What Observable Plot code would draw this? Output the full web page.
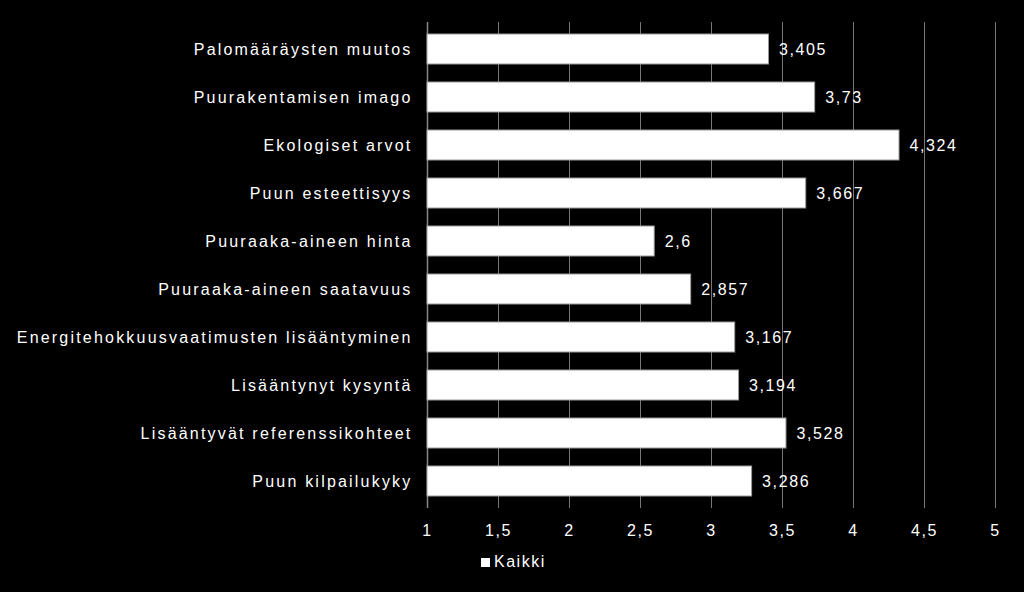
<!DOCTYPE html>
<html><head><meta charset="utf-8">
<script src="https://cdn.jsdelivr.net/npm/d3@7"></script>
<script src="https://cdn.jsdelivr.net/npm/@observablehq/plot@0.6"></script>
<style>
html,body{margin:0;padding:0;background:#000;}
#chart{width:1024px;height:592px;background:#000;position:relative;overflow:hidden;}
.legend{position:absolute;left:0;top:548px;width:1024px;height:44px;font-family:"Liberation Sans",Arial,sans-serif;font-size:16px;color:#fff;letter-spacing:1.5px;}
.legend .item{position:absolute;left:481px;top:5px;display:flex;align-items:center;}
.legend .sw{width:9px;height:9px;background:#fff;margin-right:4px;}
</style></head>
<body><div id="chart"></div>
<script>
const categories = [
  "Palomääräysten muutos",
  "Puurakentamisen imago",
  "Ekologiset arvot",
  "Puun esteettisyys",
  "Puuraaka-aineen hinta",
  "Puuraaka-aineen saatavuus",
  "Energitehokkuusvaatimusten lisääntyminen",
  "Lisääntynyt kysyntä",
  "Lisääntyvät referenssikohteet",
  "Puun kilpailukyky"
];
const values = [3.405, 3.73, 4.324, 3.667, 2.6, 2.857, 3.167, 3.194, 3.528, 3.286];
const xTicks = [1, 1.5, 2, 2.5, 3, 3.5, 4, 4.5, 5];
const seriesName = "Kaikki";

const data = categories.map((c, i) => ({category: c, value: values[i]}));
const fmt = v => String(v).replace(".", ",");

const plot = Plot.plot({
  width: 1024,
  height: 548,
  marginLeft: 427,
  marginRight: 29,
  marginTop: 22,
  marginBottom: 40,
  style: {background: "#000", color: "#fff", fontFamily: "Liberation Sans, Arial, sans-serif", fontSize: "16px", letterSpacing: "1.6px"},
  x: {domain: [1, 5], ticks: xTicks, tickFormat: fmt, tickSize: 0, tickPadding: 16, label: null},
  y: {domain: categories, paddingInner: 0.38, paddingOuter: 0.21, tickSize: 0, tickPadding: 15, label: null},
  marks: [
    Plot.ruleX(xTicks.slice(1), {stroke: "#777", strokeWidth: 1}),
    Plot.ruleX([1], {stroke: "#888", strokeWidth: 1.5}),
    Plot.barX(data, {x1: 1, x2: "value", y: "category", fill: "#fff", stroke: "#999", strokeWidth: 1, style: "filter: drop-shadow(0px 2px 2px rgba(160,160,160,0.6))"}),
    Plot.text(data, {x: "value", y: "category", text: d => fmt(d.value), dx: 10, textAnchor: "start", fill: "#fff", fontSize: 16})
  ]
});
plot.querySelectorAll('[aria-label="y-axis tick label"] text').forEach(t => t.style.letterSpacing = "2.2px");
document.getElementById("chart").appendChild(plot);
const leg = document.createElement("div");
leg.className = "legend";
leg.innerHTML = `<div class="item"><div class="sw"></div><span>${seriesName}</span></div>`;
document.getElementById("chart").appendChild(leg);
</script>
</body></html>
